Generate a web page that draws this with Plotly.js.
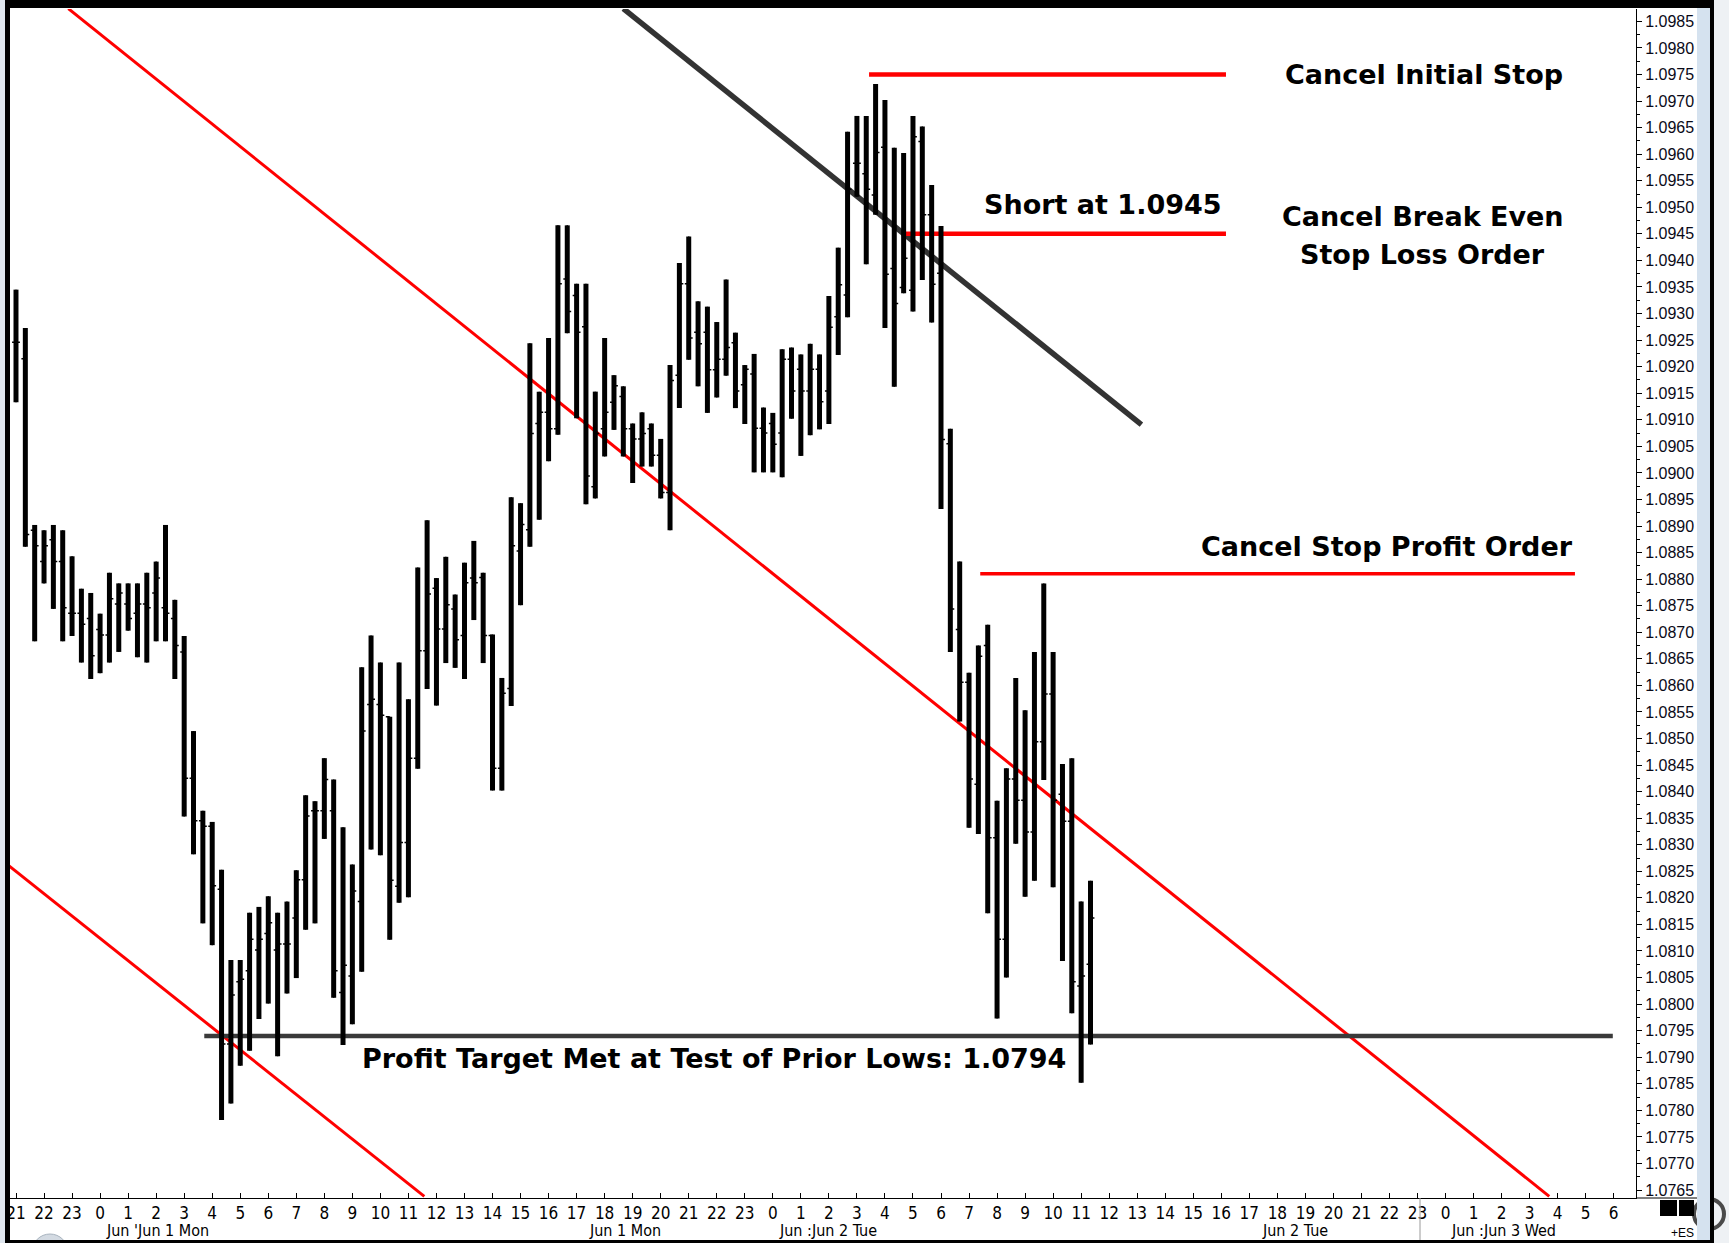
<!DOCTYPE html>
<html>
<head>
<meta charset="utf-8">
<script src="https://cdn.plot.ly/plotly-3.0.1.min.js"></script>
<style>
html,body{margin:0;padding:0;background:#fff;overflow:hidden}
#chart{width:1729px;height:1243px}
</style>
</head>
<body>
<div id="chart"></div>
<script>
// ---------- data (20-minute EUR/USD bars) ----------
const barStart = '2015-05-31T21:00:00Z';
const barStepMinutes = 20;

const opens = [
1.09246,1.09215,1.08892,1.08833,1.08874,1.08833,1.08736,1.08736,1.08726,1.08705,
1.08695,1.08753,1.08753,1.08736,1.08753,1.08774,1.08746,1.08726,1.08663,1.08425,
1.08345,1.08335,1.08216,1.07925,1.08042,1.08063,1.08102,1.08133,1.08102,1.08113,
1.08162,1.08234,1.08364,1.08364,1.08364,1.08022,1.08053,1.08193,1.08564,1.08564,
1.08541,1.08222,1.08304,1.08463,1.08665,1.08783,1.08706,1.08744,1.08694,1.08802,
1.08803,1.08694,1.08444,1.08594,1.08853,1.08893,1.09093,1.09114,1.09083,1.09365,
1.09334,1.09275,1.08974,1.09083,1.09133,1.09144,1.09083,1.09064,1.09083,1.09033,
1.08963,1.09184,1.09356,1.09265,1.09265,1.09194,1.09214,1.09245,1.09166,1.09186,
1.09084,1.09093,1.09075,1.09214,1.09195,1.09154,1.09195,1.09154,1.09294,1.09335,
1.09583,1.09563,1.09523,1.09613,1.09385,1.09349,1.09344,1.09624,1.09486,1.09376,
1.09055,1.08705,1.08606,1.08414,1.08675,1.08313,1.08122,1.08424,1.08384,1.08324,
1.08494,1.08584,1.08395,1.08344,1.08034,1.08075];

const highs = [
1.09345,1.09273,1.08902,1.08892,1.08902,1.08892,1.08843,1.08782,1.08774,1.08735,
1.08812,1.08792,1.08792,1.08792,1.08812,1.08833,1.08902,1.08761,1.08693,1.08514,
1.08364,1.08343,1.08253,1.08083,1.08083,1.08172,1.08183,1.08203,1.08172,1.08193,
1.08252,1.08393,1.08382,1.08463,1.08423,1.08333,1.08263,1.08634,1.08694,1.08643,
1.08541,1.08643,1.08574,1.08822,1.08911,1.08802,1.08842,1.08771,1.08831,1.08872,
1.08812,1.08696,1.08614,1.08954,1.08943,1.09244,1.09153,1.09254,1.09466,1.09466,
1.09356,1.09356,1.09153,1.09254,1.09184,1.09163,1.09093,1.09114,1.09093,1.09064,
1.09203,1.09395,1.09445,1.09323,1.09313,1.09284,1.09364,1.09264,1.09203,1.09224,
1.09123,1.09113,1.09233,1.09236,1.09223,1.09243,1.09223,1.09333,1.09424,1.09642,
1.09672,1.09672,1.09732,1.09702,1.09612,1.09602,1.09672,1.09652,1.09542,1.09465,
1.09083,1.08833,1.08624,1.08675,1.08714,1.08383,1.08444,1.08614,1.08553,1.08663,
1.08792,1.08663,1.08452,1.08463,1.08193,1.08232];

const lows = [
1.09133,1.08861,1.08683,1.08792,1.08744,1.08683,1.08693,1.08643,1.08612,1.08623,
1.08643,1.08663,1.08703,1.08653,1.08643,1.08683,1.08683,1.08612,1.08353,1.08282,
1.08152,1.08111,1.07782,1.07813,1.07884,1.07912,1.07972,1.08001,1.07902,1.08020,
1.08049,1.08140,1.08152,1.08311,1.08012,1.07923,1.07962,1.08061,1.08291,1.08280,
1.08121,1.08191,1.08201,1.08443,1.08593,1.08562,1.08642,1.08633,1.08612,1.08723,
1.08642,1.08402,1.08402,1.08561,1.08751,1.08861,1.08912,1.09022,1.09072,1.09263,
1.09103,1.08941,1.08952,1.09031,1.09081,1.09031,1.08981,1.09012,1.09012,1.08952,
1.08892,1.09122,1.09213,1.09163,1.09113,1.09142,1.09183,1.09122,1.09092,1.09001,
1.09001,1.09001,1.08992,1.09102,1.09032,1.09071,1.09082,1.09092,1.09222,1.09293,
1.09520,1.09393,1.09486,1.09273,1.09162,1.09338,1.09304,1.09363,1.09283,1.08932,
1.08663,1.08532,1.08332,1.08320,1.08171,1.07973,1.08050,1.08302,1.08202,1.08232,
1.08422,1.08220,1.08081,1.07983,1.07852,1.07924];

const closes = [
1.09246,1.08884,1.08863,1.08863,1.08833,1.08746,1.08736,1.08715,1.08656,1.08695,
1.08763,1.08774,1.08726,1.08753,1.08746,1.08802,1.08736,1.08675,1.08425,1.08345,
1.08335,1.08223,1.07925,1.08017,1.08047,1.08122,1.08122,1.08153,1.08113,1.08113,
1.08234,1.08354,1.08364,1.08423,1.08063,1.08073,1.08213,1.08514,1.08574,1.08544,
1.08233,1.08304,1.08463,1.08665,1.08772,1.08706,1.08752,1.08686,1.08793,1.08793,
1.08694,1.08444,1.08585,1.08863,1.08903,1.09074,1.09114,1.09083,1.09356,1.09304,
1.09265,1.08994,1.09074,1.09114,1.09164,1.09083,1.09064,1.09074,1.09033,1.08963,
1.09174,1.09356,1.09254,1.09243,1.09194,1.09214,1.09236,1.09154,1.09195,1.09084,
1.09075,1.09054,1.09214,1.09154,1.09154,1.09195,1.09134,1.09274,1.09354,1.09534,
1.09583,1.09534,1.09603,1.09374,1.09319,1.09404,1.09633,1.09486,1.09355,1.09063,
1.08744,1.08606,1.08424,1.08655,1.08313,1.08122,1.08424,1.08384,1.08324,1.08494,
1.08584,1.08384,1.08344,1.08042,1.08053,1.08162];

// price levels drawn as horizontal lines
const initialStopLevel = 1.0975;
const shortEntryLevel = 1.0945;
const stopProfitLevel = 1.0881;
const profitTargetLevel = 1.0794;

// trend-channel anchor points [time, price]
const upperChannel = [['2015-05-31 22:52', 1.09874], ['2015-06-03 03:42', 1.07638]];
const lowerChannel = [['2015-05-31 20:44', 1.08261], ['2015-06-01 11:34', 1.07638]];
const resistanceLine = [['2015-06-01 18:40', 1.09874], ['2015-06-02 13:09', 1.09091]];

// annotation texts
const noteTexts = ['Cancel Initial Stop', 'Short at 1.0945', 'Cancel Break Even', 'Stop Loss Order',
                   'Cancel Stop Profit Order', 'Profit Target Met at Test of Prior Lows: 1.0794'];
const dateLabels = ["Jun 'Jun 1 Mon", 'Jun 1 Mon', 'Jun :Jun 2 Tue', 'Jun 2 Tue', 'Jun :Jun 3 Wed'];

// ---------- build ----------
const t0 = Date.parse(barStart);
const times = opens.map((_, i) =>
  new Date(t0 + i * barStepMinutes * 60000).toISOString().slice(0, 16).replace('T', ' '));
const ranges = highs.map((h, i) => h - lows[i]);

const L = 10, R = 1636, T = 9, B = 1198;
const px = X => (X - L) / (R - L);
const py = Y => (B - Y) / (B - T);
function prect(x0, y0, x1, y1, fill) {
  return {type: 'rect', xref: 'paper', yref: 'paper', x0: px(x0), x1: px(x1), y0: py(y0), y1: py(y1),
          fillcolor: fill, line: {width: 0}, layer: 'above'};
}
function dline(p0, p1, color, width) {
  return {type: 'line', xref: 'x', yref: 'y', x0: p0[0], y0: p0[1], x1: p1[0], y1: p1[1],
          line: {color: color, width: width}, layer: 'below'};
}

const narrow = '"Liberation Sans Narrow", "Arial Narrow", "DejaVu Sans Condensed", sans-serif';
const noteFont = {family: '"DejaVu Sans", Verdana, sans-serif', size: 27, color: '#000', weight: 'bold'};

const stems = {
  type: 'bar', x: times, base: lows, y: ranges, width: 642000,
  marker: {color: '#000', line: {width: 0}}, hoverinfo: 'skip', showlegend: false
};
const ohlc = {
  type: 'ohlc', x: times, open: opens, high: highs, low: lows, close: closes,
  increasing: {line: {color: '#000', width: 1.5}}, decreasing: {line: {color: '#000', width: 1.5}},
  tickwidth: 0.42, hoverinfo: 'skip', showlegend: false
};

const shapes = [
  dline(upperChannel[0], upperChannel[1], '#ff0000', 3),
  dline(lowerChannel[0], lowerChannel[1], '#ff0000', 3),
  dline(resistanceLine[0], resistanceLine[1], '#333333', 5.5),
  dline(['2015-06-02 03:26', initialStopLevel], ['2015-06-02 16:10', initialStopLevel], '#ff0000', 4.5),
  dline(['2015-06-02 04:41', shortEntryLevel], ['2015-06-02 16:10', shortEntryLevel], '#ff0000', 4.5),
  dline(['2015-06-02 07:24', stopProfitLevel], ['2015-06-03 04:37', stopProfitLevel], '#ff0000', 3.5),
  dline(['2015-06-01 03:43', profitTargetLevel], ['2015-06-03 05:58', profitTargetLevel], '#3a3a3a', 4.5),
  // frame & decorations
  prect(0, 0, 5, 1243, '#dfe6ee'),
  prect(5, 0, 10, 1243, '#000'),
  prect(5, 0, 1714, 8, '#000'),
  prect(1714, 0, 1729, 1243, '#eef1f4'),
  {type: 'circle', xref: 'paper', yref: 'paper', x0: px(1694), x1: px(1724), y0: py(1199), y1: py(1229),
   line: {color: '#4a4a4a', width: 4}, fillcolor: 'rgba(0,0,0,0)', layer: 'above'},
  prect(1697, 8, 1710, 1240, '#d5e2ef'),
  prect(1710, 0, 1714, 1243, '#000'),
  {type: 'circle', xref: 'paper', yref: 'paper', x0: px(32), x1: px(68), y0: py(1234), y1: py(1270),
   line: {color: '#a9b4bf', width: 1}, fillcolor: '#d3dae2', layer: 'above'},
  prect(5, 1240, 1714, 1243, '#000'),
  {type: 'line', xref: 'paper', yref: 'paper', x0: px(1636), x1: px(1697), y0: 0, y1: 0,
   line: {color: '#000', width: 1}, layer: 'above'},
  {type: 'line', xref: 'paper', yref: 'paper', x0: px(1420), x1: px(1420), y0: 0, y1: py(1240),
   line: {color: '#9a9a9a', width: 1}, layer: 'above'},
  prect(1660, 1200, 1677, 1216, '#000'),
  prect(1679, 1200, 1694, 1216, '#000')
];

const annotations = [
  {x: '2015-06-02 23:14', y: initialStopLevel, text: noteTexts[0], xanchor: 'center', yanchor: 'middle'},
  {x: '2015-06-02 16:06', y: 1.09506, text: noteTexts[1], xanchor: 'right', yanchor: 'middle'},
  {x: '2015-06-02 23:11', y: 1.09483, text: noteTexts[2], xanchor: 'center', yanchor: 'middle'},
  {x: '2015-06-02 23:11', y: 1.09411, text: noteTexts[3], xanchor: 'center', yanchor: 'middle'},
  {x: '2015-06-02 21:54', y: 1.08861, text: noteTexts[4], xanchor: 'center', yanchor: 'middle'},
  {x: '2015-06-01 21:55', y: 1.07897, text: noteTexts[5], xanchor: 'center', yanchor: 'middle'}
].map(a => Object.assign(a, {xref: 'x', yref: 'y', showarrow: false, font: noteFont}));

const dateX = ['2015-06-01 02:03', '2015-06-01 18:44', '2015-06-02 01:58', '2015-06-02 18:37', '2015-06-03 02:05'];
dateLabels.forEach((txt, i) => annotations.push({
  x: dateX[i], xref: 'x', y: py(1230), yref: 'paper', text: txt, showarrow: false,
  xanchor: 'center', yanchor: 'middle', font: {family: narrow, size: 16, color: '#000'}
}));
annotations.push({x: px(1682), xref: 'paper', y: py(1233), yref: 'paper', text: '+ES', showarrow: false,
  xanchor: 'center', yanchor: 'middle', font: {family: 'Liberation Sans, Arial, sans-serif', size: 12, color: '#000'}});

const layout = {
  width: 1729, height: 1243,
  margin: {l: L, r: 1729 - R, t: T, b: 1243 - B, autoexpand: false},
  paper_bgcolor: '#ffffff', plot_bgcolor: '#ffffff',
  showlegend: false,
  xaxis: {
    type: 'date', range: ['2015-05-31 20:47:10', '2015-06-03 06:47:40'],
    tick0: '2015-05-31 21:00', dtick: 3600000, tickformat: '%-H',
    ticks: 'inside', ticklen: 5, tickcolor: '#000',
    showline: true, linecolor: '#000', linewidth: 1, showgrid: false, zeroline: false,
    rangeslider: {visible: false}, automargin: false, fixedrange: true,
    tickfont: {family: narrow, size: 17, color: '#000'}
  },
  yaxis: {
    side: 'right', range: [1.07635, 1.098733], tick0: 1.0765, dtick: 0.0005, tickformat: '.4f',
    ticks: 'outside', ticklen: 5, tickcolor: '#000',
    minor: {ticks: 'outside', ticklen: 3, tick0: 1.0765, dtick: 0.00025, tickcolor: '#000'},
    showline: true, linecolor: '#000', linewidth: 1, showgrid: false, zeroline: false,
    automargin: false, fixedrange: true,
    tickfont: {family: 'Liberation Sans, Arial, sans-serif', size: 16, color: '#0a0a18'}
  },
  shapes: shapes,
  annotations: annotations
};

Plotly.newPlot('chart', [stems, ohlc], layout, {staticPlot: true, displayModeBar: false});
</script>
</body>
</html>
